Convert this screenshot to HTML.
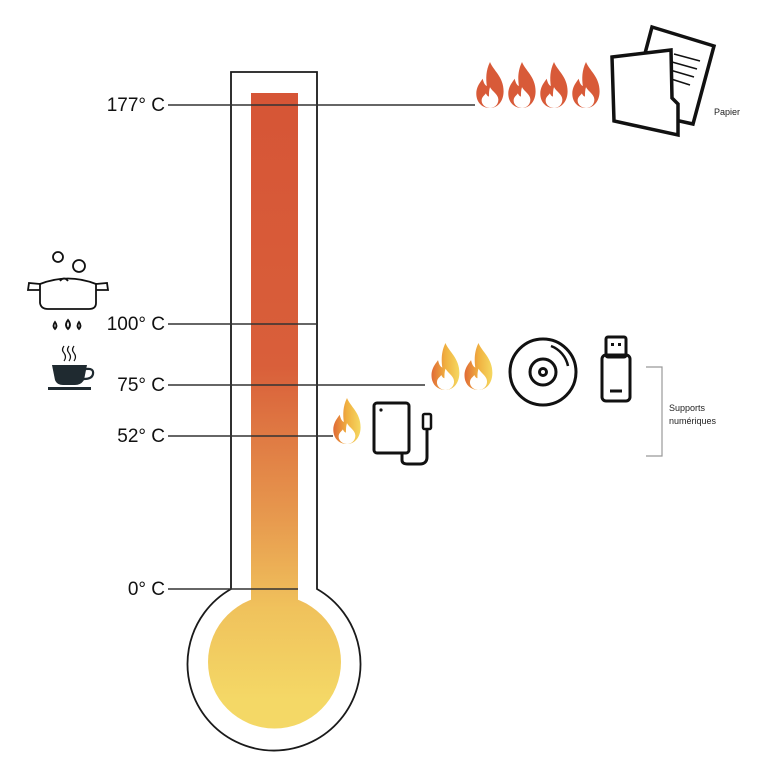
<!DOCTYPE html>
<html><head><meta charset="utf-8"><style>
html,body{margin:0;padding:0;background:#fff;}
svg{display:block}
text{font-family:"Liberation Sans",sans-serif;}
</style></head><body>
<svg width="766" height="765" viewBox="0 0 766 765" xmlns="http://www.w3.org/2000/svg">
<defs>
<linearGradient id="tube" x1="0" y1="93" x2="0" y2="700" gradientUnits="userSpaceOnUse">
<stop offset="0" stop-color="#d65536"/>
<stop offset="0.45" stop-color="#d95f3a"/>
<stop offset="0.7" stop-color="#e7994e"/>
<stop offset="0.85" stop-color="#f0c25c"/>
<stop offset="1" stop-color="#f4d866"/>
</linearGradient>
<linearGradient id="fy" x1="0" y1="0" x2="1" y2="0"><stop offset="0" stop-color="#e06a36"/><stop offset="0.5" stop-color="#f0b040"/><stop offset="1" stop-color="#f5d860"/></linearGradient>
<symbol id="flame" viewBox="0 0 30 44">
<path d="M15 0 C18 8 28 14 28 28 C28 38 22 44 15 44 C7 44 1 38 2 28 C3 22 6 19 8 16 C9 20 10 22 12 23 C11 16 11 8 15 0Z"/>
<path d="M15 24 C17 28 23 31 23 36 C23 41 19 44 15 44 C11 44 7 41 7 37 C7 33 10 32 11 30 C12 32 13 33 14 33 C14 30 14 27 15 24Z" fill="#fff"/>
</symbol>
</defs>

<rect x="251" y="93" width="47" height="520" fill="url(#tube)"/>
<circle cx="274.5" cy="662" r="66.5" fill="url(#tube)"/>
<path d="M231 589 L231 72 L317 72 L317 589 A86.5 86.5 0 1 1 231 589 Z" fill="none" stroke="#1a1a1a" stroke-width="1.8"/>

<g stroke="#333" stroke-width="1.5">
<line x1="168" y1="105" x2="475" y2="105"/>
<line x1="168" y1="324" x2="316" y2="324"/>
<line x1="168" y1="385" x2="425" y2="385"/>
<line x1="168" y1="436" x2="333" y2="436"/>
<line x1="168" y1="589" x2="298" y2="589"/>
</g>
<g font-size="19" fill="#111" text-anchor="end">
<text x="165" y="111">177° C</text>
<text x="165" y="330">100° C</text>
<text x="165" y="391">75° C</text>
<text x="165" y="442">52° C</text>
<text x="165" y="595">0° C</text>
</g>

<g fill="#d85a38">
<use href="#flame" x="474" y="62" width="32" height="46"/>
<use href="#flame" x="506" y="62" width="32" height="46"/>
<use href="#flame" x="538" y="62" width="32" height="46"/>
<use href="#flame" x="570" y="62" width="32" height="46"/>
</g>
<g fill="url(#fy)">
<use href="#flame" x="429" y="343" width="33" height="47"/>
<use href="#flame" x="462" y="343" width="33" height="47"/>
<use href="#flame" x="331" y="398" width="32" height="46"/>
</g>

<g stroke="#111" stroke-width="3.5" fill="#fff" stroke-linejoin="miter">
<polygon points="652,27 714,46 693,124 630,110"/>
<line x1="674" y1="54" x2="700" y2="61" stroke-width="1.5"/>
<line x1="672" y1="62" x2="697" y2="69" stroke-width="1.5"/>
<line x1="670" y1="70" x2="694" y2="77" stroke-width="1.5"/>
<line x1="668" y1="78" x2="690" y2="85" stroke-width="1.5"/>
<polygon points="612,57 671,50 672,98 678,104 678,135 614,121"/>
</g>
<text x="714" y="115" font-size="9" fill="#222">Papier</text>

<g fill="none" stroke="#111" stroke-width="3">
<circle cx="543" cy="372" r="33"/>
<circle cx="543" cy="372" r="13"/>
<circle cx="543" cy="372" r="3.5"/>
<path d="M551 346 A27 27 0 0 1 568 366" stroke-width="2.5"/>
</g>
<g fill="none" stroke="#111" stroke-width="3">
<rect x="606" y="337" width="20" height="20" rx="2"/>
<rect x="602" y="355" width="28" height="46" rx="4"/>
<line x1="610" y1="391" x2="622" y2="391"/>
</g>
<rect x="611" y="343" width="3" height="3" fill="#111"/><rect x="618" y="343" width="3" height="3" fill="#111"/>
<g fill="none" stroke="#111" stroke-width="3">
<rect x="374" y="403" width="35" height="50" rx="3"/>
<path d="M402 454 L402 460 C402 463 404 464 408 464 L420 464 C425 464 427 461 427 457 L427 429"/>
<rect x="423" y="414" width="8" height="15" rx="1.5" stroke-width="2.5"/>
</g>
<circle cx="381" cy="410" r="1.6" fill="#111"/>

<path d="M646 367 L662 367 L662 456 L646 456" fill="none" stroke="#999" stroke-width="1.2"/>
<text x="669" y="411" font-size="9" fill="#222">Supports</text>
<text x="669" y="424" font-size="9" fill="#222">numériques</text>

<g fill="none" stroke="#111" stroke-width="1.8">
<circle cx="58" cy="257" r="5"/>
<circle cx="79" cy="266" r="6"/>
<path d="M40 284 Q68 273 96 284"/>
<path d="M60 281 Q64 276 68 281"/>
<path d="M40 283 L40 303 Q41 309 48 309 L89 309 Q96 309 96 303 L96 283"/>
<path d="M40 284 L29 283 L28 290 L40 290"/>
<path d="M96 284 L107 283 L108 290 L96 290"/>
<path d="M55 322 q-3 4 0 7 q3 -3 0 -7 Z"/>
<path d="M68 320 q-4 5 0 9 q4 -4 0 -9 Z"/>
<path d="M79 322 q-3 4 0 7 q3 -3 0 -7 Z"/>
<path d="M64 346 q-3 4 0 7 q3 4 0 8 M69 346 q-3 4 0 7 q3 4 0 8 M74 346 q-3 4 0 7 q3 4 0 8" stroke-width="1.2"/>
</g>
<path d="M52 365 L87 365 L84 380 Q81 385 75 385 L63 385 Q57 385 55 380 Z" fill="#1f2a30"/>
<path d="M86 369 Q94 368 93 374 Q92 379 84 379" fill="none" stroke="#1f2a30" stroke-width="2.2"/>
<rect x="48" y="387" width="43" height="3" fill="#1f2a30"/>
</svg>
</body></html>
